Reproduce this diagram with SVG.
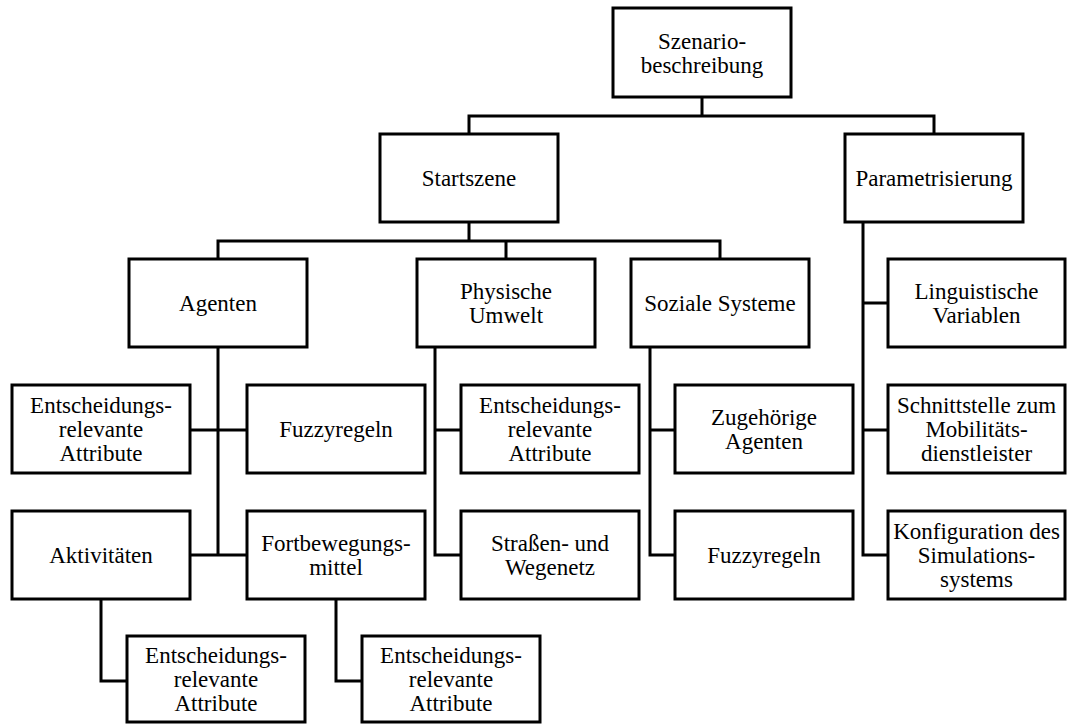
<svg xmlns="http://www.w3.org/2000/svg" width="1067" height="724" viewBox="0 0 1067 724">
  <style>
    .box rect { fill: #ffffff; stroke: #000000; stroke-width: 3; }
    .box text { font-family: "Liberation Serif", "Times New Roman", serif; font-size: 23px; fill: #000000; text-anchor: middle; }
    .links path { fill: none; stroke: #000000; stroke-width: 3; stroke-linejoin: miter; stroke-linecap: square; }
  </style>
  <rect width="1067" height="724" fill="#ffffff"/>

  <!-- connectors -->
  <g class="links">
    <!-- root to level 1 -->
    <path d="M702 97 V116 M469 116 H934 M469 116 V134 M934 116 V134"/>
    <!-- Startszene to its three branches -->
    <path d="M469 222 V241 M218 241 H720 M218 241 V259 M506 241 V259 M720 241 V259"/>
    <!-- Agenten trunk -->
    <path d="M218 347 V555 M190 430 H247 M190 555 H247"/>
    <!-- Aktivitaeten / Fortbewegungsmittel children -->
    <path d="M101 599 V681 H127"/>
    <path d="M336 599 V681 H362"/>
    <!-- Physische Umwelt trunk -->
    <path d="M435 347 V555 H461 M435 430 H461"/>
    <!-- Soziale Systeme trunk -->
    <path d="M650 347 V555 H675 M650 430 H675"/>
    <!-- Parametrisierung trunk -->
    <path d="M863 222 V555 H888 M863 303 H888 M863 430 H888"/>
  </g>

  <!-- nodes -->
  <g id="szenariobeschreibung" class="box">
    <rect x="613" y="8" width="178" height="89"/>
    <text x="702" y="48.5">Szenario-<tspan x="702" dy="24">beschreibung</tspan></text>
  </g>
  <g id="startszene" class="box">
    <rect x="380" y="134" width="178" height="88"/>
    <text x="469" y="186">Startszene</text>
  </g>
  <g id="parametrisierung" class="box">
    <rect x="845" y="134" width="178" height="88"/>
    <text x="934" y="186">Parametrisierung</text>
  </g>

  <g id="agenten" class="box">
    <rect x="129" y="259" width="178" height="88"/>
    <text x="218" y="311">Agenten</text>
  </g>
  <g id="physische-umwelt" class="box">
    <rect x="417" y="259" width="178" height="88"/>
    <text x="506" y="299">Physische<tspan x="506" dy="24">Umwelt</tspan></text>
  </g>
  <g id="soziale-systeme" class="box">
    <rect x="631" y="259" width="178" height="88"/>
    <text x="720" y="311">Soziale Systeme</text>
  </g>
  <g id="linguistische-variablen" class="box">
    <rect x="888" y="259" width="177" height="88"/>
    <text x="976.5" y="299">Linguistische<tspan x="976.5" dy="24">Variablen</tspan></text>
  </g>

  <g id="agenten-attribute" class="box">
    <rect x="12" y="385" width="178" height="88"/>
    <text x="101" y="413">Entscheidungs-<tspan x="101" dy="24">relevante</tspan><tspan x="101" dy="24">Attribute</tspan></text>
  </g>
  <g id="agenten-fuzzyregeln" class="box">
    <rect x="247" y="385" width="178" height="88"/>
    <text x="336" y="437">Fuzzyregeln</text>
  </g>
  <g id="umwelt-attribute" class="box">
    <rect x="461" y="385" width="178" height="88"/>
    <text x="550" y="413">Entscheidungs-<tspan x="550" dy="24">relevante</tspan><tspan x="550" dy="24">Attribute</tspan></text>
  </g>
  <g id="zugehoerige-agenten" class="box">
    <rect x="675" y="385" width="178" height="88"/>
    <text x="764" y="425">Zugehörige<tspan x="764" dy="24">Agenten</tspan></text>
  </g>
  <g id="schnittstelle" class="box">
    <rect x="888" y="385" width="177" height="88"/>
    <text x="976.5" y="413">Schnittstelle zum<tspan x="976.5" dy="24">Mobilitäts-</tspan><tspan x="976.5" dy="24">dienstleister</tspan></text>
  </g>

  <g id="aktivitaeten" class="box">
    <rect x="12" y="511" width="178" height="88"/>
    <text x="101" y="563">Aktivitäten</text>
  </g>
  <g id="fortbewegungsmittel" class="box">
    <rect x="247" y="511" width="178" height="88"/>
    <text x="336" y="551">Fortbewegungs-<tspan x="336" dy="24">mittel</tspan></text>
  </g>
  <g id="wegenetz" class="box">
    <rect x="461" y="511" width="178" height="88"/>
    <text x="550" y="551">Straßen- und<tspan x="550" dy="24">Wegenetz</tspan></text>
  </g>
  <g id="soziale-fuzzyregeln" class="box">
    <rect x="675" y="511" width="178" height="88"/>
    <text x="764" y="563">Fuzzyregeln</text>
  </g>
  <g id="konfiguration" class="box">
    <rect x="888" y="511" width="177" height="88"/>
    <text x="976.5" y="539">Konfiguration des<tspan x="976.5" dy="24">Simulations-</tspan><tspan x="976.5" dy="24">systems</tspan></text>
  </g>

  <g id="aktivitaeten-attribute" class="box">
    <rect x="127" y="636" width="178" height="86"/>
    <text x="216" y="663">Entscheidungs-<tspan x="216" dy="24">relevante</tspan><tspan x="216" dy="24">Attribute</tspan></text>
  </g>
  <g id="fortbewegung-attribute" class="box">
    <rect x="362" y="636" width="178" height="86"/>
    <text x="451" y="663">Entscheidungs-<tspan x="451" dy="24">relevante</tspan><tspan x="451" dy="24">Attribute</tspan></text>
  </g>
</svg>
